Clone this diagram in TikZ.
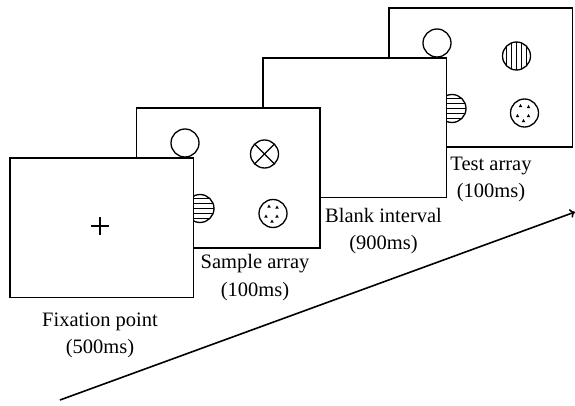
\documentclass[tikz,border=0pt]{standalone}
\usepackage{fontspec}
\setmainfont{Liberation Serif}
\usetikzlibrary{arrows.meta}
\begin{document}
\begin{tikzpicture}[x=1pt,y=-1pt,
  screen/.style={draw, fill=white, line width=1.6pt, minimum width=183.5pt,
    minimum height=139.5pt, inner sep=0pt, anchor=north west},
  disc/.style={circle, draw, fill=white, line width=1.3pt, minimum size=28pt, inner sep=0pt},
  hstripes/.style={disc, path picture={
    \foreach \d in {-10,-5,0,5,10}
      \draw[line width=1.1pt] ([shift={(-20,\d)}]path picture bounding box.center) -- ++(40,0);}},
  vstripes/.style={disc, path picture={
    \foreach \d in {-10,-5,0,5,10}
      \draw[line width=1.1pt] ([shift={(\d,-20)}]path picture bounding box.center) -- ++(0,40);}},
  crossed/.style={disc, path picture={
    \draw[line width=1.3pt] ([shift={(-10,-10)}]path picture bounding box.center) -- ++(20,20);
    \draw[line width=1.3pt] ([shift={(-10,10)}]path picture bounding box.center) -- ++(20,-20);}},
  dotted disc/.style={disc, path picture={
    \foreach \a/\b in {-4/-7,4/-6,-7/3,4/3,-1/8}
      \fill[black] ([shift={(\a,\b)}]path picture bounding box.center)
        +(0,-2) -- +(1.8,1.2) -- +(-1.8,1.2) -- cycle;}},
  lbl/.style={font=\fontsize{20.5}{24}\selectfont, anchor=base, inner sep=0pt}
]
\useasboundingbox (0,0) rectangle (575,406);

% test array (back)
\node[screen] (test) at (388,7) {};
\node[disc] (testopen) at (437,43) {};
\node[vstripes] (testv) at (516.5,56) {};
\node[hstripes] (testh) at (452,108.5) {};
\node[dotted disc] (testdots) at (524.5,113) {};

% blank interval
\node[screen] (blank) at (262,57) {};

% sample array
\node[screen] (sample) at (135.5,107.5) {};
\node[disc] (sampleopen) at (185,143) {};
\node[crossed] (samplex) at (264.5,154) {};
\node[hstripes] (sampleh) at (200,208.5) {};
\node[dotted disc] (sampledots) at (273,213.5) {};

% fixation point (front)
\node[screen] (fix) at (9,157) {};
\coordinate (fixc) at (100,226);
\draw[line width=1.6pt] ([xshift=-9pt]fixc) -- ([xshift=9pt]fixc);
\draw[line width=1.6pt] ([yshift=-9pt]fixc) -- ([yshift=9pt]fixc);

% labels
\node[lbl] (fixl1) at (100,326) {Fixation point};
\node[lbl] (fixl2) at (100,353.5) {(500ms)};
\node[lbl] (samplel1) at (255,268.5) {Sample array};
\node[lbl] (samplel2) at (255,296) {(100ms)};
\node[lbl] (blankl1) at (383.5,222) {Blank interval};
\node[lbl] (blankl2) at (383.5,249) {(900ms)};
\node[lbl] (testl1) at (491,170.5) {Test array};
\node[lbl] (testl2) at (491,197.5) {(100ms)};

% time axis
\coordinate (tstart) at (60,400);
\coordinate (tend) at (575,212);
\draw[line width=1.6pt, -{To[length=5pt,width=9pt]}] (tstart) -- (tend);
\end{tikzpicture}
\end{document}
